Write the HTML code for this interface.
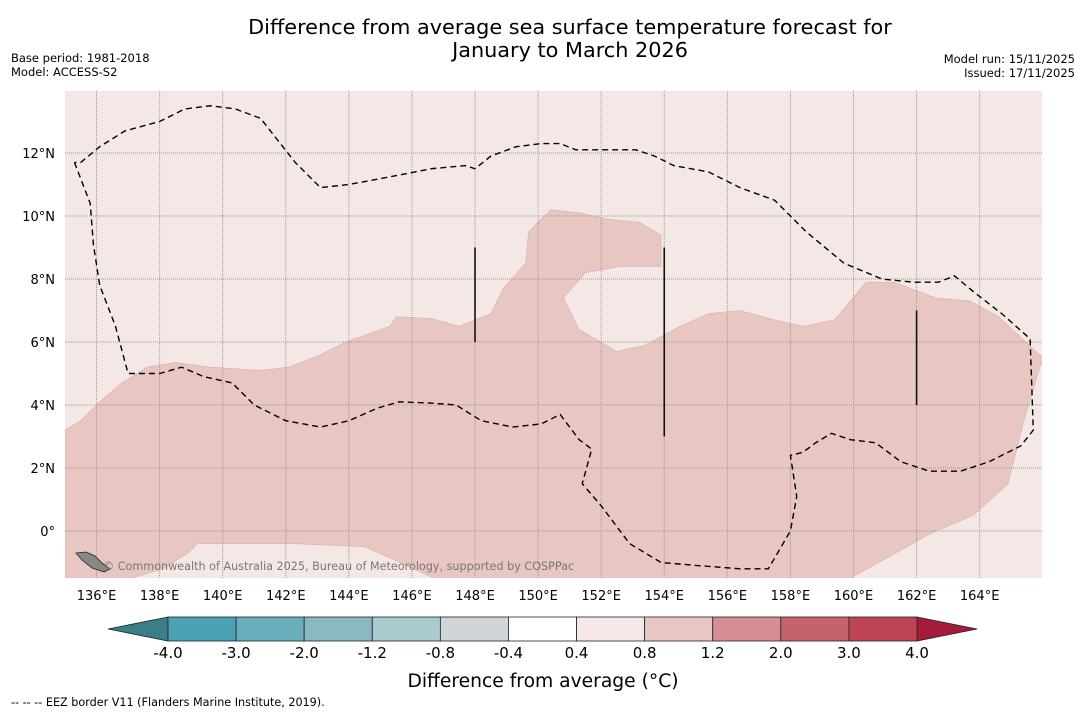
<!DOCTYPE html>
<html><head><meta charset="utf-8"><style>
body{margin:0;background:#fff;font-family:"DejaVu Sans","Liberation Sans",sans-serif;}
svg{display:block}
text{font-family:"DejaVu Sans","Liberation Sans",sans-serif;}
</style></head><body>
<svg id="c" width="1085" height="713">
<text x="570" y="34" font-size="20.8" text-anchor="middle">Difference from average sea surface temperature forecast for</text>
<text x="570" y="57" font-size="20.8" text-anchor="middle">January to March 2026</text>
<text x="11" y="62" font-size="11.5">Base period: 1981-2018</text>
<text x="11" y="76" font-size="11.5">Model: ACCESS-S2</text>
<text x="1075" y="63" font-size="11.5" text-anchor="end">Model run: 15/11/2025</text>
<text x="1075" y="77" font-size="11.5" text-anchor="end">Issued: 17/11/2025</text>
<defs><clipPath id="mc"><rect x="65" y="91" width="977" height="487"/></clipPath></defs>
<g id="map" clip-path="url(#mc)"></g>
<g id="axes"></g>
<g id="cb"></g>
<text x="543" y="687" font-size="18.7" text-anchor="middle">Difference from average (°C)</text>
<text x="11" y="706" font-size="11.2">--  --  -- EEZ border V11 (Flanders Marine Institute, 2019).</text>
</svg>
<script>
const lonTicks=[136,138,140,142,144,146,148,150,152,154,156,158,160,162,164];
const latTicks=[0,2,4,6,8,10,12];
const cbLevels=[-4.0,-3.0,-2.0,-1.2,-0.8,-0.4,0.4,0.8,1.2,2.0,3.0,4.0];
const cbColors=["#4aa2b3","#6aaebb","#8ab9c3","#aacacf","#d0d5d7","#ffffff","#f5e8e7","#e8c6c1","#d68e94","#c6626d","#bd4455"];
const anomalyArea=[[135,3.2],[135.5,3.5],[136.1,4.1],[136.8,4.7],[137.6,5.2],[138.5,5.35],[139.6,5.2],[141.2,5.1],[142.1,5.2],[143.1,5.6],[143.9,6.0],[145.3,6.5],[145.5,6.8],[146.6,6.75],[147.5,6.5],[148.5,6.9],[148.9,7.7],[149.6,8.5],[149.7,9.5],[150.4,10.2],[151.3,10.1],[152.2,9.9],[153.2,9.8],[153.9,9.4],[153.9,8.4],[153.2,8.4],[152.6,8.4],[151.5,8.2],[150.8,7.4],[151.3,6.4],[152.5,5.7],[153.4,5.9],[154.5,6.5],[155.4,6.9],[156.4,7.0],[157.5,6.7],[158.4,6.5],[159.4,6.7],[160.4,7.9],[161.3,7.9],[162.6,7.4],[163.7,7.3],[164.6,6.8],[166,5.5],[165.4,3.5],[164.9,1.5],[163.8,0.5],[162.4,-0.1],[160.8,-1.0],[159.9,-1.5],[146.7,-1.5],[145.4,-0.9],[144.5,-0.5],[142.2,-0.4],[139.2,-0.4],[138.9,-0.7],[138.1,-1.2],[137.1,-1.5],[135,-1.5]];
const eez=[[135.3,11.7],[135.8,10.4],[135.9,9.1],[136.1,7.8],[136.6,6.5],[137,5.0],[138,5.0],[138.7,5.2],[139.4,4.9],[140.3,4.7],[141,4.0],[142,3.5],[143.1,3.3],[144,3.5],[144.9,3.9],[145.6,4.1],[146.6,4.06],[147.4,4.0],[148.2,3.5],[149.2,3.3],[150.1,3.4],[150.7,3.7],[151.3,2.9],[151.7,2.6],[151.4,1.5],[152,0.8],[152.9,-0.4],[153.9,-1.0],[155.1,-1.1],[156.4,-1.2],[157.3,-1.2],[158,0.0],[158.2,1.1],[158,2.4],[158.4,2.5],[158.8,2.8],[159.3,3.1],[159.9,2.9],[160.7,2.8],[161.5,2.2],[162.4,1.9],[163.4,1.9],[164.3,2.2],[165.3,2.7],[165.7,3.2],[165.6,6.1],[164.7,6.9],[163.8,7.6],[163.2,8.1],[162.7,7.9],[161.9,7.9],[160.9,8.0],[159.7,8.5],[158.5,9.5],[157.5,10.5],[156.4,10.9],[155.4,11.4],[154.3,11.6],[153.7,11.9],[153.1,12.1],[151.8,12.1],[151.2,12.1],[150.7,12.3],[150.1,12.3],[149.3,12.2],[148.5,11.9],[148,11.5],[147.7,11.6],[146.6,11.5],[145.6,11.3],[144,11.0],[143.1,10.9],[142.3,11.7],[141.2,13.1],[140.4,13.4],[139.6,13.5],[138.8,13.4],[138,13.0],[136.9,12.7],[136.1,12.2],[135.5,11.7],[135.3,11.7]];
const vLines=[[148,6,9],[154,3,9],[162,4,7]];
const NS="http://www.w3.org/2000/svg";
const X=lon=>65+(lon-135)*31.54, Y=lat=>531-lat*31.5;
function mk(p,tag,at){const e=document.createElementNS(NS,tag);for(const k in at)e.setAttribute(k,at[k]);p.appendChild(e);return e;}
const map=document.getElementById('map'),axes=document.getElementById('axes'),cb=document.getElementById('cb');
const bg=mk(map,'rect',{x:65,y:91,width:977,height:487,fill:'#f4e8e7'});


const pa=mk(map,'polygon',{points:anomalyArea.map(p=>X(p[0])+','+Y(p[1])).join(' '),fill:'#e8c6c1',stroke:'#d9b0aa','stroke-width':0.6});


lonTicks.forEach(l=>{const g=mk(map,'line',{x1:X(l),x2:X(l),y1:91,y2:578,stroke:'#999','stroke-width':1,'stroke-dasharray':'1,1'});

});
latTicks.forEach(l=>{const g=mk(map,'line',{x1:65,x2:1042,y1:Y(l),y2:Y(l),stroke:'#999','stroke-width':1,'stroke-dasharray':'1,1'});

});
const ez=mk(map,'polyline',{points:eez.map(p=>X(p[0])+','+Y(p[1])).join(' '),fill:'none',stroke:'#000','stroke-width':1.4,'stroke-dasharray':'6,4'});


vLines.forEach(v=>{const l=mk(map,'line',{x1:X(v[0]),x2:X(v[0]),y1:Y(v[2]),y2:Y(v[1]),stroke:'#111','stroke-width':1.6});

});
const isl=mk(map,'polygon',{points:'76,553 86,552 95,556 102,563 110,569 104,572 92,568 82,560',fill:'#888',stroke:'#222','stroke-width':0.8});


const cr=mk(map,'text',{x:103,y:570,'font-size':11.2,fill:'#777'});cr.textContent='© Commonwealth of Australia 2025, Bureau of Meteorology, supported by COSPPac';


lonTicks.forEach(l=>{const t=mk(axes,'text',{x:X(l),y:600,'font-size':13,'text-anchor':'middle'});t.textContent=l+'°E';

});
latTicks.forEach(l=>{const t=mk(axes,'text',{x:55,y:Y(l)+5,'font-size':13,'text-anchor':'end'});t.textContent=l===0?'0°':l+'°N';

});
const cx0=168,cw=(917-168)/cbColors.length,cy=617,ch=24;
const le=mk(cb,'polygon',{points:`${cx0},${cy} 108,${cy+ch/2} ${cx0},${cy+ch}`,fill:'#3a7f88',stroke:'#222','stroke-width':0.8});


const re=mk(cb,'polygon',{points:`917,${cy} 977,${cy+ch/2} 917,${cy+ch}`,fill:'#a51c3a',stroke:'#222','stroke-width':0.8});


cbColors.forEach((c,i)=>{const r=mk(cb,'rect',{x:cx0+i*cw,y:cy,width:cw,height:ch,fill:c,stroke:'#222','stroke-width':0.8});

});
cbLevels.forEach((v,i)=>{const t=mk(cb,'text',{x:cx0+i*cw,y:658,'font-size':15,'text-anchor':'middle'});t.textContent=v.toFixed(1);

});
</script>
</body></html>
